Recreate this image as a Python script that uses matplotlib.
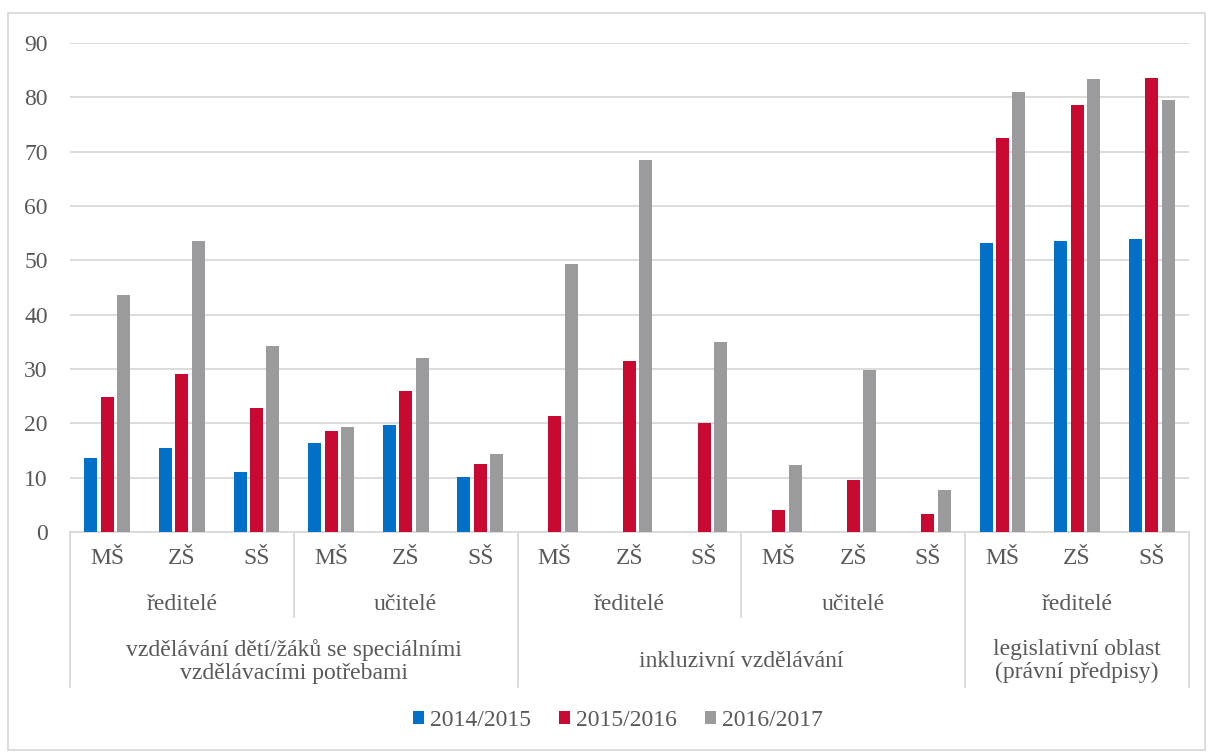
import numpy as np
import matplotlib.pyplot as plt
from matplotlib.patches import Rectangle

plt.rcParams['font.family'] = ['Liberation Serif', 'DejaVu Serif']

# school level labels for each of the 15 categories
schools = ["MŠ", "ZŠ", "SŠ"] * 5
# second level: who answered
roles = ["ředitelé", "učitelé", "ředitelé", "učitelé", "ředitelé"]
# top level: topic
topics = ["vzdělávání dětí/žáků se speciálními\nvzdělávacími potřebami",
          "inkluzivní vzdělávání",
          "legislativní oblast\n(právní předpisy)"]

years = ["2014/2015", "2015/2016", "2016/2017"]
v2014 = [13.6, 15.5, 11.0, 16.3, 19.7, 10.2, 0, 0, 0, 0, 0, 0, 53.2, 53.5, 54.0]
v2015 = [24.8, 29.0, 22.8, 18.5, 26.0, 12.6, 21.4, 31.5, 20.0, 4.1, 9.5, 3.3, 72.5, 78.5, 83.5]
v2016 = [43.6, 53.5, 34.2, 19.3, 32.0, 14.3, 49.3, 68.4, 35.0, 12.4, 29.8, 7.7, 81.0, 83.3, 79.5]

colors = ["#0070C8", "#C80A32", "#9B9B9D"]
txt = "#595959"
grid = "#D9D9D9"
fs = 17

fig = plt.figure(figsize=(12.08, 7.53), dpi=100)
ax = fig.add_axes([70/1208, (753-532)/753, (1189-70)/1208, 489/753])

x = np.arange(len(schools))
w = 0.175
for i, (vals, c, lab) in enumerate(zip([v2014, v2015, v2016], colors, years)):
    ax.bar(x + (i - 1) * 0.22, vals, width=w, color=c, label=lab, zorder=3)

ax.set_xlim(-0.5, len(schools) - 0.5)
ax.set_ylim(0, 90)
ax.set_yticks(range(0, 91, 10))
ax.yaxis.grid(True, color=grid, linewidth=1.3, zorder=0)
ax.tick_params(axis='y', length=0, pad=16, labelsize=fs, labelcolor=txt)
ax.set_xticks([])
for s in ["top", "right", "left"]:
    ax.spines[s].set_visible(False)
ax.spines["bottom"].set_color(grid)
ax.spines["bottom"].set_linewidth(1.3)

tr = ax.get_xaxis_transform()
y1, y2, y3 = -0.055, -0.149, -0.264
low2, low3 = -0.174, -0.317

# level 1 labels
for xi, s in zip(x, schools):
    ax.text(xi, y1, s, transform=tr, ha="center", va="center", fontsize=fs, color=txt)

# level 2 labels
for k, r in enumerate(roles):
    ax.text(3 * k + 1, y2, r, transform=tr, ha="center", va="center", fontsize=fs, color=txt)

# level 3 labels
topic_spans = [(0, 6), (6, 12), (12, 15)]
for (a, b), t in zip(topic_spans, topics):
    ax.text((a + b - 1) / 2, y3, t, transform=tr, ha="center", va="center",
            fontsize=fs, color=txt, linespacing=1.12)

# separators
for xs in [2.5, 8.5]:
    ax.plot([xs, xs], [0, low2], transform=tr, color=grid, lw=1.3, clip_on=False)
for xs in [-0.5, 5.5, 11.5, 14.5]:
    ax.plot([xs, xs], [0, low3], transform=tr, color=grid, lw=1.3, clip_on=False)

leg = fig.legend(loc="center", bbox_to_anchor=(618 / 1208, (753 - 720) / 753), ncol=3,
                 frameon=False, fontsize=fs, handlelength=0.47, handleheight=0.47,
                 handletextpad=0.25, columnspacing=1.2)
for t in leg.get_texts():
    t.set_color(txt)

fig.patches.append(Rectangle((8/1208, 3/753), 1197/1208, 737/753, transform=fig.transFigure,
                             fill=False, edgecolor=grid, linewidth=1.3))

fig.savefig("out.png", dpi=100)
